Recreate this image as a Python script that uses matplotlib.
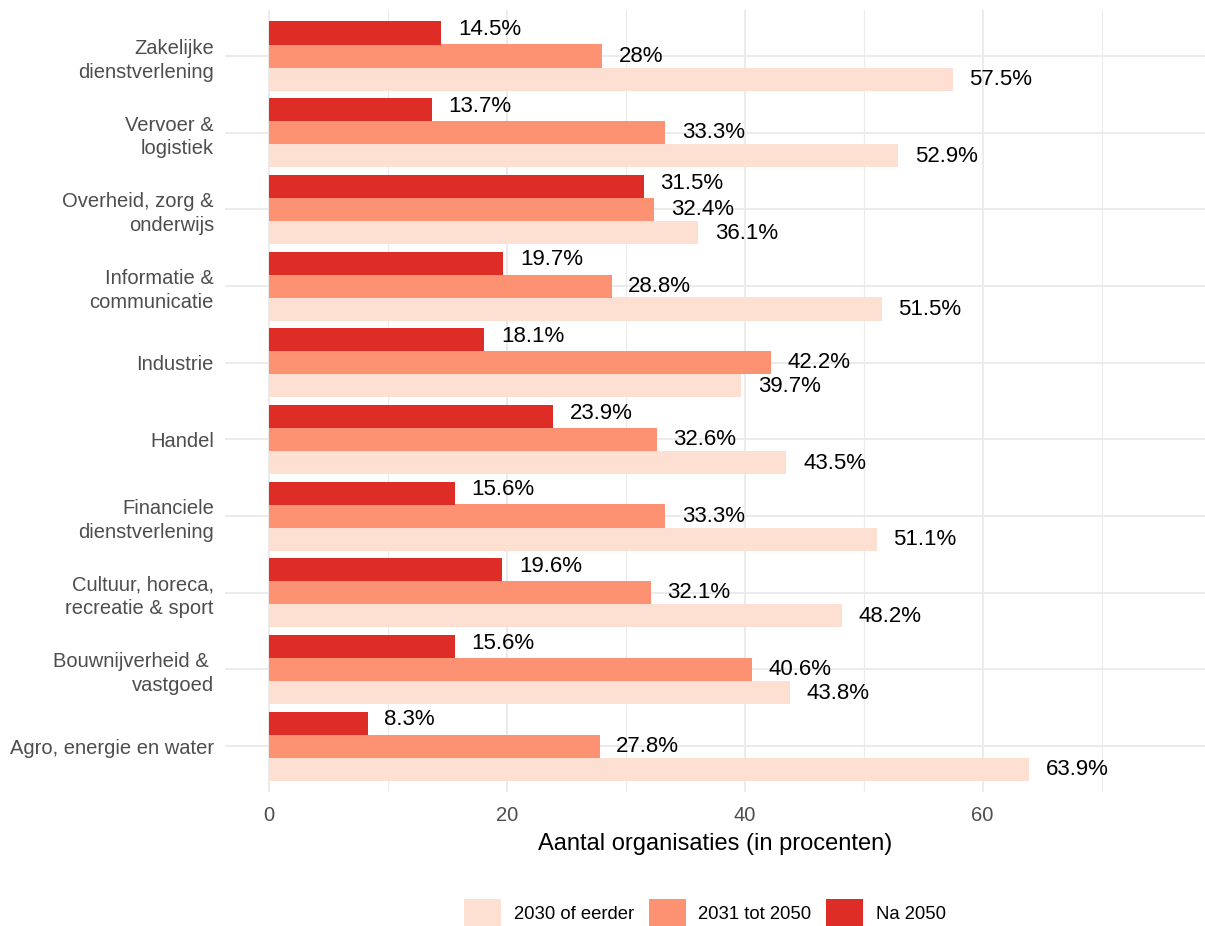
import matplotlib
matplotlib.use("Agg")
import matplotlib.pyplot as plt
import numpy as np

plt.rcParams['font.family'] = ['Liberation Sans', 'DejaVu Sans']

categories = [
    "Zakelijke\ndienstverlening",
    "Vervoer &\nlogistiek",
    "Overheid, zorg &\nonderwijs",
    "Informatie &\ncommunicatie",
    "Industrie",
    "Handel",
    "Financiele\ndienstverlening",
    "Cultuur, horeca,\nrecreatie & sport",
    "Bouwnijverheid & \nvastgoed",
    "Agro, energie en water",
]
series_names = ["2030 of eerder", "2031 tot 2050", "Na 2050"]
v_2030 = [57.5, 52.9, 36.1, 51.5, 39.7, 43.5, 51.1, 48.2, 43.8, 63.9]
v_2031_2050 = [28, 33.3, 32.4, 28.8, 42.2, 32.6, 33.3, 32.1, 40.6, 27.8]
v_na_2050 = [14.5, 13.7, 31.5, 19.7, 18.1, 23.9, 15.6, 19.6, 15.6, 8.3]
colors = ["#FEE0D2", "#FC9272", "#DE2D26"]

fig = plt.figure(figsize=(12.05, 9.26), dpi=100)
ax = fig.add_axes([225/1205, 1-792/926, (1205-225)/1205, (792-10)/926])

n = len(categories)
ypos = np.arange(n, 0, -1)  # top category highest
bh = 0.3
offsets = [-bh, 0, bh]
text_offsets = [-0.31, 0.0, 0.34]
all_vals = [v_2030, v_2031_2050, v_na_2050]
handles = []
for vals, off, toff, col, name in zip(all_vals, offsets, text_offsets, colors, series_names):
    bars = ax.barh(ypos + off, vals, height=bh, color=col, label=name, zorder=2)
    handles.append(bars)
    for y, v in zip(ypos + toff, vals):
        ax.text(v + 1.4, y, f"{v:g}%", va="center", ha="left",
                fontsize=16, color="black", zorder=3)

ax.set_xlim(-3.7, 78.7)
ax.set_ylim(0.4, n + 0.6)
ax.set_yticks(ypos)
ax.set_yticklabels(categories, linespacing=1.3)
ax.set_xticks([0, 20, 40, 60])
ax.set_xticks([10, 30, 50, 70], minor=True)
ax.tick_params(axis="both", which="both", length=0, labelsize=14.5, labelcolor="#4D4D4D")
ax.tick_params(axis="y", pad=8)
ax.tick_params(axis="x", pad=10)
ax.grid(True, which="major", color="#EBEBEB", linewidth=1.4, zorder=0)
ax.grid(True, which="minor", axis="x", color="#EBEBEB", linewidth=0.8, zorder=0)
ax.set_axisbelow(True)
for s in ax.spines.values():
    s.set_visible(False)
ax.set_xlabel("Aantal organisaties (in procenten)", fontsize=17, color="black", labelpad=6)

fig.legend(handles=handles, labels=series_names, loc="center",
           bbox_to_anchor=(705/1205, 1-913/926), ncol=3, frameon=False,
           fontsize=13.3, handlelength=2.0, handleheight=2.0, handletextpad=0.7,
           columnspacing=0.8)

fig.savefig("out.png", dpi=100, facecolor="white")
